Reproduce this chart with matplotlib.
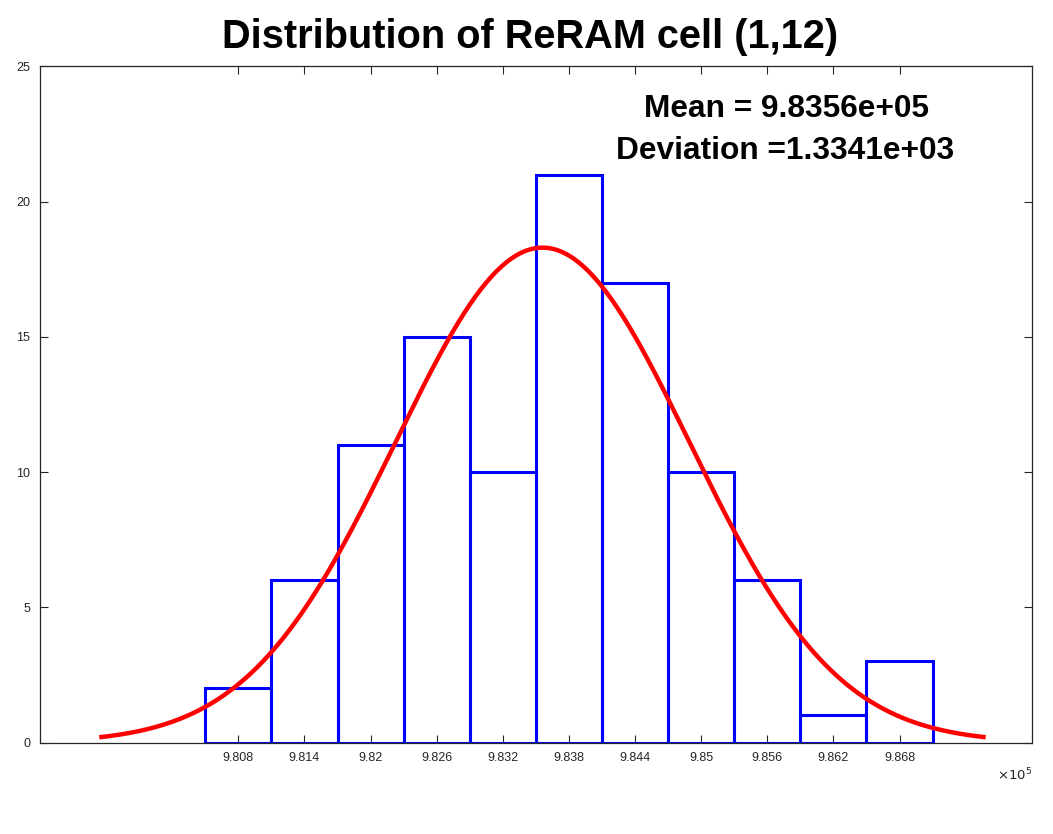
import numpy as np
from matplotlib import pyplot as plt

# bin centres (raw units) and counts
bin_centers = [980800, 981400, 982000, 982600, 983200, 983800,
               984400, 985000, 985600, 986200, 986800]
counts = [2, 6, 11, 15, 10, 21, 17, 10, 6, 1, 3]
tick_labels = ['9.808', '9.814', '9.82', '9.826', '9.832', '9.838',
               '9.844', '9.85', '9.856', '9.862', '9.868']
mu = 983560.0
sigma = 1334.1
bin_width = 600

plt.rcParams['font.family'] = ['Liberation Sans', 'DejaVu Sans']

fig = plt.figure(figsize=(10.53, 8.34), dpi=100)
ax = fig.add_axes([0.038, 0.1097, 0.9418, 0.8106])

ax.bar(bin_centers, counts, width=bin_width, fill=False,
       edgecolor='#0000ff', linewidth=2.2, zorder=2)

# fitted normal curve, scaled to counts
xs = np.linspace(mu - 3 * sigma, mu + 3 * sigma, 300)
ys = sum(counts) * bin_width / (sigma * np.sqrt(2 * np.pi)) * np.exp(-0.5 * ((xs - mu) / sigma) ** 2)
ax.plot(xs, ys, color='#ff0000', linewidth=3.2, zorder=3)

ax.set_xlim(979000, 988000)
ax.set_ylim(0, 25)
ax.set_xticks(bin_centers)
ax.set_xticklabels(tick_labels)
ax.set_yticks([0, 5, 10, 15, 20, 25])
ax.tick_params(direction='in', top=True, right=True, length=6, width=0.8,
               labelsize=9, colors='#262626', pad=7)
for sp in ax.spines.values():
    sp.set_color('#262626')
    sp.set_linewidth(0.9)

ax.text(1.0, -0.036, r'$\times 10^5$', transform=ax.transAxes,
        ha='right', va='top', fontsize=9.5, color='#262626')

fig.text(0.747, 1 - 109 / 834, 'Mean = 9.8356e+05', ha='center', va='center',
         fontsize=22.8, fontweight='bold')
fig.text(0.746, 1 - 151 / 834, 'Deviation =1.3341e+03', ha='center', va='center',
         fontsize=22.8, fontweight='bold')

fig.text(0.5038, 1 - 37 / 834, 'Distribution of ReRAM cell (1,12)', ha='center', va='center',
         fontsize=28.6, fontweight='bold')

plt.savefig('out.png')
